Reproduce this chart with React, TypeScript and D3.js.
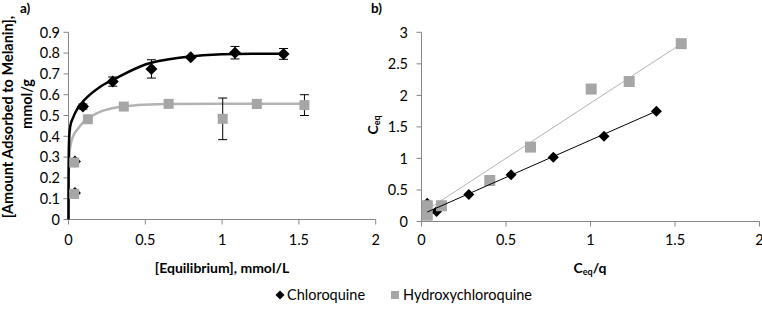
import React from "react";
import * as d3 from "d3";

// ---------- Data ----------
// Panel a: adsorption isotherm
const chloroquineC = [0.042, 0.042, 0.094, 0.288, 0.54, 0.796, 1.084, 1.40];
const chloroquineQ = [0.128, 0.279, 0.543, 0.663, 0.724, 0.78, 0.802, 0.796];
const chloroquineErr = [0, 0, 0.012, 0.022, 0.044, 0.006, 0.03, 0.026];

const hcqC = [0.037, 0.037, 0.126, 0.36, 0.652, 1.004, 1.226, 1.536];
const hcqQ = [0.123, 0.274, 0.482, 0.543, 0.556, 0.484, 0.556, 0.55];
const hcqErr = [0, 0, 0, 0, 0, 0.1, 0.02, 0.05];

// fitted isotherm curves
const chloroquineFitC = [0, 0.0005, 0.002, 0.005, 0.012, 0.03, 0.06, 0.1, 0.2, 0.3, 0.5, 0.75, 1.0, 1.2, 1.42];
const chloroquineFitQ = [0, 0.2, 0.33, 0.4, 0.45, 0.49, 0.535, 0.572, 0.635, 0.675, 0.745, 0.78, 0.795, 0.797, 0.797];
const hcqFitC = [0, 0.0005, 0.002, 0.005, 0.012, 0.03, 0.06, 0.1, 0.15, 0.22, 0.32, 0.45, 0.65, 1.0, 1.54];
const hcqFitQ = [0, 0.15, 0.24, 0.3, 0.35, 0.4, 0.435, 0.47, 0.497, 0.522, 0.54, 0.55, 0.555, 0.557, 0.557];

// Panel b: linearised plot
const chloroquineBx = [0.034, 0.045, 0.089, 0.28, 0.53, 0.78, 1.08, 1.39];
const chloroquineBy = [0.29, 0.16, 0.16, 0.43, 0.74, 1.02, 1.35, 1.75];
const hcqBx = [0.034, 0.034, 0.118, 0.404, 0.645, 1.004, 1.229, 1.537];
const hcqBy = [0.1, 0.25, 0.25, 0.65, 1.18, 2.1, 2.22, 2.82];
const chloroquineTrend = { slope: 1.18, intercept: 0.11 };
const hcqTrend = { slope: 1.75, intercept: 0.127 };

const xTicksA = [0, 0.5, 1, 1.5, 2];
const yTicksA = [0, 0.1, 0.2, 0.3, 0.4, 0.5, 0.6, 0.7, 0.8, 0.9];
const xTicksB = [0, 0.5, 1, 1.5, 2];
const yTicksB = [0, 0.5, 1, 1.5, 2, 2.5, 3];

const seriesNames = ["Chloroquine", "Hydroxychloroquine"];

// ---------- Style ----------
const FONT = "Lato, 'Open Sans', sans-serif";
const AXIS = "#868686";
const GRAY = "#a6a6a6";
const GRAY_LINE = "#b3b3b3";
const TICK_FS = 14.5;

const fmt = (v: number) => String(v);

const diamond = (cx: number, cy: number, r: number) =>
  `M${cx},${cy - r}L${cx + r},${cy}L${cx},${cy + r}L${cx - r},${cy}Z`;

function Axes({ x, y, xt, yt, labelEnd }: any) {
  const [x0] = x.range();
  const x1 = x.range()[1];
  const y0 = y.range()[0];
  const y1 = y.range()[1];
  return (
    <g>
      <line x1={x0} x2={x1} y1={y0} y2={y0} stroke={AXIS} />
      <line x1={x0} x2={x0} y1={y0} y2={y1} stroke={AXIS} />
      {yt.map((t: number) => (
        <g key={"y" + t}>
          <line x1={x0 - 5} x2={x0} y1={y(t)} y2={y(t)} stroke={AXIS} />
          <text x={labelEnd} y={y(t)} dy="0.36em" textAnchor="end" fontSize={TICK_FS} fontFamily={FONT} fill="#000">
            {fmt(t)}
          </text>
        </g>
      ))}
      {xt.map((t: number) => (
        <g key={"x" + t}>
          <line x1={x(t)} x2={x(t)} y1={y0} y2={y0 + 5} stroke={AXIS} />
          <text x={x(t)} y={245} textAnchor="middle" fontSize={TICK_FS} fontFamily={FONT} fill="#000">
            {fmt(t)}
          </text>
        </g>
      ))}
    </g>
  );
}

export default function App() {
  const xA = d3.scaleLinear().domain([0, 2]).range([68.5, 375.7]);
  const yA = d3.scaleLinear().domain([0, 0.9]).range([219.5, 32.3]);
  const xB = d3.scaleLinear().domain([0, 2]).range([421.5, 759.5]);
  const yB = d3.scaleLinear().domain([0, 3]).range([221.5, 32.3]);

  const lineA = d3
    .line<[number, number]>()
    .x((d) => xA(d[0]))
    .y((d) => yA(d[1]))
    .curve(d3.curveMonotoneX);

  const cqFit = lineA(chloroquineFitC.map((c, i) => [c, chloroquineFitQ[i]]) as any);
  const hcqFit = lineA(hcqFitC.map((c, i) => [c, hcqFitQ[i]]) as any);

  const cqMin = d3.min(chloroquineBx)!;
  const cqMax = d3.max(chloroquineBx)!;
  const hMin = d3.min(hcqBx)!;
  const hMax = d3.max(hcqBx)!;

  const errBar = (cx: number, q: number, e: number, key: string) => {
    if (!e) return null;
    const px = xA(cx);
    const top = yA(q + e);
    const bot = yA(q - e);
    return (
      <g key={key} stroke="#000" strokeWidth={1}>
        <line x1={px} x2={px} y1={top} y2={bot} />
        <line x1={px - 4.5} x2={px + 4.5} y1={top} y2={top} />
        <line x1={px - 4.5} x2={px + 4.5} y1={bot} y2={bot} />
      </g>
    );
  };

  return (
    <svg
      width={762}
      height={309}
      style={{ position: "absolute", left: 0, top: 0, background: "#fff" }}
    >
      <rect width={762} height={309} fill="#fff" />
      {/* ---------- Panel a ---------- */}
      <text x={20} y={13} fontSize={13.5} fontWeight="bold" fontFamily={FONT}>a)</text>
      <Axes x={xA} y={yA} xt={xTicksA} yt={yTicksA} labelEnd={60} />
      <path d={hcqFit!} fill="none" stroke={GRAY_LINE} strokeWidth={2.5} />
      <path d={cqFit!} fill="none" stroke="#000" strokeWidth={2.5} />
      {chloroquineC.map((c, i) => errBar(c, chloroquineQ[i], chloroquineErr[i], "ce" + i))}
      {hcqC.map((c, i) => errBar(c, hcqQ[i], hcqErr[i], "he" + i))}
      {chloroquineC.map((c, i) => (
        <path key={"cd" + i} d={diamond(xA(c), yA(chloroquineQ[i]), 6)} fill="#000" />
      ))}
      {hcqC.map((c, i) => (
        <rect key={"hs" + i} x={xA(c) - 5} y={yA(hcqQ[i]) - 5} width={10} height={10} fill={GRAY} />
      ))}
      <text
        transform="translate(8,117) rotate(-90)"
        dy="0.36em"
        textAnchor="middle"
        fontSize={14.5}
        fontWeight="bold"
        fontFamily={FONT}
      >
        [Amount Adsorbed to Melanin],
      </text>
      <text
        transform="translate(27,104) rotate(-90)"
        dy="0.36em"
        textAnchor="middle"
        fontSize={14.5}
        fontWeight="bold"
        fontFamily={FONT}
      >
        mmol/g
      </text>
      <text x={222} y={273} textAnchor="middle" fontSize={14} fontWeight="bold" fontFamily={FONT}>
        [Equilibrium], mmol/L
      </text>

      {/* ---------- Panel b ---------- */}
      <text x={371} y={13} fontSize={13.5} fontWeight="bold" fontFamily={FONT}>b)</text>
      <Axes x={xB} y={yB} xt={xTicksB} yt={yTicksB} labelEnd={408} />
      <line
        x1={xB(hMin)}
        x2={xB(hMax)}
        y1={yB(hcqTrend.intercept + hcqTrend.slope * hMin)}
        y2={yB(hcqTrend.intercept + hcqTrend.slope * hMax)}
        stroke={GRAY_LINE}
        strokeWidth={1}
      />
      {chloroquineBx.map((c, i) => (
        <path key={"bd" + i} d={diamond(xB(c), yB(chloroquineBy[i]), 5.5)} fill="#000" />
      ))}
      {hcqBx.map((c, i) => (
        <rect key={"bs" + i} x={xB(c) - 5.5} y={yB(hcqBy[i]) - 5.5} width={11} height={11} fill={GRAY} />
      ))}
      <line
        x1={xB(cqMin)}
        x2={xB(cqMax)}
        y1={yB(chloroquineTrend.intercept + chloroquineTrend.slope * cqMin)}
        y2={yB(chloroquineTrend.intercept + chloroquineTrend.slope * cqMax)}
        stroke="#000"
        strokeWidth={1}
      />
      <text
        transform="translate(373,125) rotate(-90)"
        dy="0.36em"
        textAnchor="middle"
        fontSize={14}
        fontWeight="bold"
        fontFamily={FONT}
      >
        C<tspan fontSize={9} dy="0.25em">eq</tspan>
      </text>
      <text x={590} y={273} textAnchor="middle" fontSize={14} fontWeight="bold" fontFamily={FONT}>
        C<tspan fontSize={9} dy="0.25em">eq</tspan>
        <tspan dy="-0.16em">/q</tspan>
      </text>

      {/* ---------- Legend ---------- */}
      <path d={diamond(280, 295, 4.5)} fill="#000" />
      <text x={287} y={300} fontSize={14.5} fontFamily={FONT}>{seriesNames[0]}</text>
      <rect x={391} y={291} width={8} height={8} fill={GRAY} />
      <text x={403} y={300} fontSize={14.5} fontFamily={FONT}>{seriesNames[1]}</text>
    </svg>
  );
}
